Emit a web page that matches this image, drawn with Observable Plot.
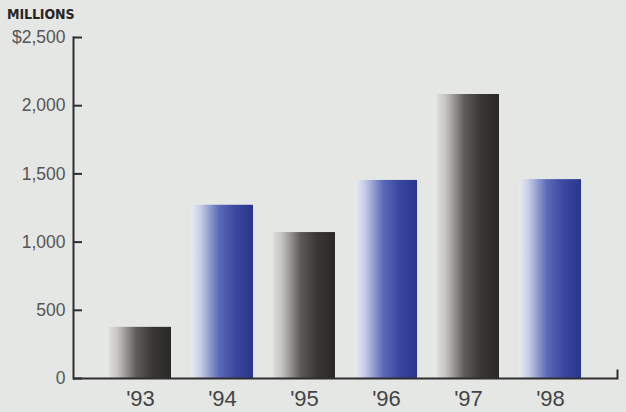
<!DOCTYPE html>
<html>
<head>
<meta charset="utf-8">
<script src="https://cdn.jsdelivr.net/npm/d3@7"></script>
<script src="https://cdn.jsdelivr.net/npm/@observablehq/plot@0.6"></script>
<style>
  html, body { margin: 0; padding: 0; background: #e5e7e4; }
  #wrap { width: 626px; height: 412px; position: relative; }
  #unit { height: 22px; box-sizing: border-box; padding: 7px 0 0 7px; font: bold 14px "Liberation Sans Narrow", "DejaVu Sans Condensed", sans-serif; letter-spacing: -0.1px; color: #262626; line-height: 14px; }
</style>
</head>
<body>
<div id="wrap">
  <div id="unit">MILLIONS</div>
  <div id="chart"></div>
</div>
<script>
const years = ["'93", "'94", "'95", "'96", "'97", "'98"];
const values = [375, 1270, 1070, 1452, 2082, 1458];
const series = ["gray", "blue", "gray", "blue", "gray", "blue"];
const yTicks = [0, 500, 1000, 1500, 2000, 2500];

const data = years.map((year, i) => ({year, value: values[i], kind: series[i]}));
const fmt = d3.format(",");

const svg = Plot.plot({
  width: 626,
  height: 390,
  marginLeft: 73,
  marginRight: 9,
  marginTop: 15,
  marginBottom: 34,
  style: {background: "transparent", fontFamily: "'Liberation Sans', Arial, sans-serif", color: "#2e2e2e"},
  x: {domain: years, paddingInner: 0.25, paddingOuter: 0.42},
  y: {domain: [0, 2500]},
  marks: [
    Plot.barY(data.filter(d => d.kind === "gray"), {x: "year", y: "value", fill: "url(#gradGray)"}),
    Plot.barY(data.filter(d => d.kind === "blue"), {x: "year", y: "value", fill: "url(#gradBlue)"}),
    Plot.tickY(yTicks, {y: d => d, stroke: "#2e2e2e", strokeWidth: 2, insetRight: 535}),
    Plot.axisY({ticks: yTicks, tickSize: 0, tickPadding: 8, fontSize: 17.5, fill: "#555", label: null,
      tickFormat: d => d === 2500 ? "$" + fmt(d) : fmt(d)}),
    Plot.frame({anchor: "left", stroke: "#2e2e2e", strokeWidth: 2}),
    Plot.frame({anchor: "right", stroke: "#2e2e2e", strokeWidth: 2, insetTop: 333}),
    Plot.ruleY([0], {stroke: "#2e2e2e", strokeWidth: 2}),
    Plot.axisX({tickSize: 0, tickPadding: 12, fontSize: 22, fill: "#444", label: null})
  ]
});

const defs = d3.select(svg).insert("defs", ":first-child");
function grad(id, stops) {
  const g = defs.append("linearGradient").attr("id", id).attr("x1", "0").attr("x2", "1").attr("y1", "0").attr("y2", "0");
  stops.forEach(([o, c]) => g.append("stop").attr("offset", o).attr("stop-color", c));
}
grad("gradGray", [[0, "#dedede"], [0.15, "#c2c1bf"], [0.45, "#5c5a58"], [0.7, "#3a3836"], [1, "#2a2826"]]);
grad("gradBlue", [[0, "#e8ebf3"], [0.15, "#c8cee7"], [0.45, "#5c6ab9"], [0.7, "#3b49a2"], [1, "#29368f"]]);

document.getElementById("chart").appendChild(svg);
</script>
</body>
</html>
